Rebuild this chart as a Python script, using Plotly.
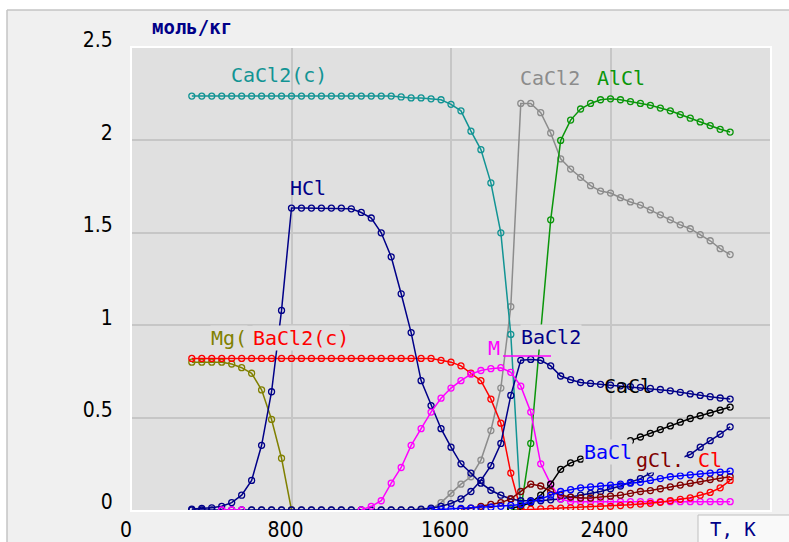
import plotly.graph_objects as go

N = None

# Temperature grid, K
T = [300, 350, 400, 450, 500, 550, 600, 650, 700, 750,
     800, 850, 900, 950, 1000, 1050, 1100, 1150, 1200, 1250,
     1300, 1350, 1400, 1450, 1500, 1550, 1600, 1650, 1700, 1750,
     1800, 1850, 1900, 1950, 2000, 2050, 2100, 2150, 2200, 2250,
     2300, 2350, 2400, 2450, 2500, 2550, 2600, 2650, 2700, 2750,
     2800, 2850, 2900, 2950, 3000]

# mol/kg
cacl2_c = [2.24, 2.24, 2.24, 2.24, 2.24, 2.24, 2.24, 2.24, 2.24, 2.24,
           2.24, 2.24, 2.24, 2.24, 2.24, 2.24, 2.24, 2.24, 2.24, 2.24,
           2.24, 2.235, 2.23, 2.23, 2.225, 2.22, 2.195, 2.16, 2.05, 1.95,
           1.77, 1.50, 0.95, 0.0, N, N, N, N, N, N,
           N, N, N, N, N, N, N, N, N, N,
           N, N, N, N, N]

cacl2 = [N, N, N, N, N, N, 0.0, 0.0, 0.0, 0.0,
         0.0, 0.0, 0.0, 0.0, 0.0, 0.0, 0.0, 0.0, 0.0, 0.0,
         0.0, 0.0, 0.0, 0.0, 0.005, 0.04, 0.09, 0.14, 0.18, 0.27,
         0.43, 0.66, 1.1, 2.2, 2.2, 2.15, 2.04, 1.9, 1.845, 1.80,
         1.755, 1.726, 1.715, 1.69, 1.667, 1.65, 1.624, 1.597, 1.57, 1.543,
         1.522, 1.49, 1.457, 1.414, 1.382]

alcl = [N, N, N, N, N, N, N, N, N, N,
        N, N, N, N, N, N, N, N, N, N,
        N, N, N, N, N, N, N, N, N, N,
        N, N, 0.0, 0.0, 0.36, 0.95, 1.57, 2.0, 2.11, 2.17,
        2.20, 2.22, 2.225, 2.22, 2.21, 2.2, 2.19, 2.175, 2.16, 2.14,
        2.12, 2.10, 2.08, 2.06, 2.045]

hcl = [0.005, 0.008, 0.012, 0.02, 0.04, 0.08, 0.16, 0.35, 0.64, 1.08,
       1.634, 1.634, 1.634, 1.634, 1.634, 1.634, 1.63, 1.61, 1.58, 1.50,
       1.37, 1.17, 0.96, 0.70, 0.565, 0.44, 0.34, 0.25, 0.2, 0.145,
       0.107, 0.08, 0.06, 0.05, 0.05, 0.05, 0.055, 0.06, 0.07, 0.08,
       0.09, 0.10, 0.115, 0.13, 0.15, 0.17, 0.2, 0.23, 0.26, 0.28,
       0.30, 0.34, 0.375, 0.41, 0.45]

bacl2 = [0.0, 0.0, 0.0, 0.0, 0.0, 0.0, 0.0, 0.0, 0.0, 0.0,
         0.0, 0.0, 0.0, 0.0, 0.0, 0.0, 0.0, 0.0, 0.0, 0.0,
         0.0, 0.0, 0.0, 0.005, 0.01, 0.02, 0.035, 0.06, 0.1, 0.16,
         0.24, 0.36, 0.62, 0.81, 0.815, 0.81, 0.78, 0.725, 0.705, 0.69,
         0.685, 0.68, 0.676, 0.672, 0.668, 0.664, 0.658, 0.652, 0.645, 0.637,
         0.628, 0.62, 0.613, 0.606, 0.60]

mg_c = [0.80, 0.80, 0.80, 0.80, 0.79, 0.77, 0.74, 0.65, 0.49, 0.28,
        0.0, N, N, N, N, N, N, N, N, N,
        N, N, N, N, N, N, N, N, N, N,
        N, N, N, N, N, N, N, N, N, N,
        N, N, N, N, N, N, N, N, N, N,
        N, N, N, N, N]

bacl2_c = [0.82, 0.82, 0.82, 0.82, 0.82, 0.82, 0.82, 0.82, 0.82, 0.82,
           0.82, 0.82, 0.82, 0.82, 0.82, 0.82, 0.82, 0.82, 0.82, 0.82,
           0.82, 0.82, 0.82, 0.82, 0.82, 0.81, 0.80, 0.78, 0.74, 0.70,
           0.60, 0.47, 0.2, 0.0, N, N, N, N, N, N,
           N, N, N, N, N, N, N, N, N, N,
           N, N, N, N, N]

mg = [N, N, N, 0.0, 0.0, 0.0, N, N, N, N,
      N, N, N, N, N, N, N, 0.0, 0.02, 0.05,
      0.145, 0.23, 0.35, 0.44, 0.53, 0.605, 0.66, 0.70, 0.735, 0.755,
      0.765, 0.77, 0.745, 0.67, 0.53, 0.25, 0.14, 0.06, 0.045, 0.045,
      0.045, 0.045, 0.045, 0.045, 0.045, 0.045, 0.045, 0.045, 0.045, 0.045,
      0.045, 0.045, 0.045, 0.045, 0.045]

cacl = [N, N, N, N, N, N, N, N, N, N,
        N, N, N, N, N, N, N, N, N, N,
        N, N, N, N, N, N, N, N, N, N,
        N, N, 0.01, 0.02, 0.04, 0.08, 0.14, 0.22, 0.255, 0.275,
        0.295, 0.315, 0.335, 0.355, 0.375, 0.395, 0.415, 0.435, 0.455, 0.475,
        0.495, 0.51, 0.525, 0.54, 0.557]

mgcl = [N, N, N, N, N, N, N, N, N, N,
        N, N, N, N, N, N, N, N, N, N,
        N, N, N, N, N, N, N, 0.005, 0.01, 0.02,
        0.03, 0.04, 0.06, 0.1, 0.14, 0.13, 0.1, 0.08, 0.07, 0.065,
        0.065, 0.07, 0.075, 0.08, 0.09, 0.1, 0.105, 0.115, 0.125, 0.135,
        0.145, 0.155, 0.165, 0.172, 0.18]

cl = [N, N, N, N, N, N, N, N, N, N,
      N, N, N, N, N, N, N, N, N, N,
      N, N, N, N, N, N, N, N, N, N,
      N, N, N, 0.0, 0.005, 0.006, 0.008, 0.01, 0.012, 0.014,
      0.016, 0.018, 0.02, 0.024, 0.028, 0.032, 0.036, 0.042, 0.05, 0.058,
      0.066, 0.08, 0.095, 0.12, 0.16]

bacl = [N, N, N, N, N, N, N, N, N, N,
        N, N, N, N, N, N, N, N, N, N,
        N, N, N, N, 0.0, 0.003, 0.005, 0.008, 0.01, 0.012,
        0.015, 0.02, 0.025, 0.03, 0.045, 0.06, 0.08, 0.1, 0.11, 0.12,
        0.125, 0.13, 0.135, 0.14, 0.145, 0.15, 0.16, 0.17, 0.18, 0.185,
        0.19, 0.195, 0.2, 0.205, 0.21]

x_ticks = [0, 800, 1600, 2400]
y_ticks = [0, 0.5, 1, 1.5, 2, 2.5]
y_tick_text = ["0", "0.5", "1", "1.5", "2", "2.5"]

TEAL = "#129494"
GRAY = "#8c8c8c"
GREEN = "#0a960a"
NAVY = "#000088"
OLIVE = "#808000"
RED = "#ff0000"
MAGENTA = "#ff00ff"
BLUE = "#0000ff"
MAROON = "#800000"
BLACK = "#000000"

series = [
    ("CaCl2", cacl2, GRAY),
    ("CaCl2(c)", cacl2_c, TEAL),
    ("Mg(c)", mg_c, OLIVE),
    ("BaCl2(c)", bacl2_c, RED),
    ("AlCl", alcl, GREEN),
    ("BaCl2", bacl2, NAVY),
    ("HCl", hcl, NAVY),
    ("Mg", mg, MAGENTA),
    ("CaCl", cacl, BLACK),
    ("MgCl", mgcl, MAROON),
    ("Cl", cl, RED),
    ("BaCl", bacl, BLUE),
]

fig = go.Figure()
for name, vals, col in series:
    fig.add_trace(go.Scatter(
        x=T, y=vals, name=name, mode="lines+markers",
        line=dict(color=col, width=1.5),
        marker=dict(symbol="circle-open", size=6, color=col, line=dict(width=1.3, color=col)),
        connectgaps=False, showlegend=False, hoverinfo="skip"))

# plot area in pixels: x 132..770, y 48..510
L, R, TOP, BOT = 132, 770, 48, 510
def px(x):
    return (x - L) / (R - L)
def py(y):
    return (BOT - y) / (BOT - TOP)

MONO = "DejaVu Sans Mono"
labels = [
    ("CaCl2(c)", 279, 75, TEAL, None),
    ("HCl", 308, 188, NAVY, None),
    ("CaCl2", 550, 78, GRAY, None),
    ("AlCl", 621, 78, GREEN, None),
    ("Mg(", 229, 338, OLIVE, "#e0e0e0"),
    ("BaCl2(c)", 301, 338, RED, "#e0e0e0"),
    ("M", 494, 348, MAGENTA, None),
    ("BaCl2", 551, 337, NAVY, "#e0e0e0"),
    ("CaCl", 628, 386, BLACK, None),
    ("BaCl", 608, 452, BLUE, "#e0e0e0"),
    ("gCl.", 660, 460, MAROON, "#e0e0e0"),
    ("Cl", 710, 460, RED, None),
]
annotations = []
for txt, x, y, col, bg in labels:
    a = dict(text=txt, x=px(x), y=py(y), xref="paper", yref="paper",
             xanchor="center", yanchor="middle", showarrow=False,
             font=dict(family=MONO, size=20, color=col), borderpad=0)
    if bg:
        a["bgcolor"] = bg
    annotations.append(a)

annotations.append(dict(text="<b>моль/кг</b>", x=px(192), y=py(27), xref="paper", yref="paper",
                        xanchor="center", yanchor="middle", showarrow=False,
                        font=dict(family=MONO, size=19, color=NAVY)))
annotations.append(dict(text="T, K", x=px(733), y=py(529), xref="paper", yref="paper",
                        xanchor="center", yanchor="middle", showarrow=False,
                        font=dict(family=MONO, size=19, color=NAVY)))

shapes = [
    # white margin strips around the outer panel
    dict(type="rect", xref="paper", yref="paper", x0=px(-5), x1=px(800), y0=py(10), y1=py(-5),
         fillcolor="white", line=dict(width=0), layer="below"),
    dict(type="rect", xref="paper", yref="paper", x0=px(-5), x1=px(7), y0=py(560), y1=py(-5),
         fillcolor="white", line=dict(width=0), layer="below"),
    dict(type="line", xref="paper", yref="paper", x0=px(7), x1=px(800), y0=py(10), y1=py(10),
         line=dict(color="#c4c4c4", width=1.5), layer="below"),
    dict(type="line", xref="paper", yref="paper", x0=px(7), x1=px(7), y0=py(10), y1=py(560),
         line=dict(color="#c4c4c4", width=1.5), layer="below"),
    # magenta underline of the partially hidden "Mg" label
    dict(type="line", xref="paper", yref="paper", x0=px(503), x1=px(551), y0=py(356), y1=py(356),
         line=dict(color=MAGENTA, width=1.5), layer="above"),
    # T, K box
    dict(type="rect", xref="paper", yref="paper", x0=px(698), x1=px(800), y0=py(560), y1=py(515),
         fillcolor="#f9f9f9", line=dict(color="#c0c0c0", width=1), layer="above"),
]

TICKFONT = dict(family="Liberation Sans Narrow, DejaVu Sans Condensed, Arial Narrow, sans-serif",
                size=21, color="black")

fig.update_layout(
    width=789, height=542,
    margin=dict(l=L, r=789 - R, t=TOP, b=542 - BOT, pad=0, autoexpand=False),
    paper_bgcolor="#f0f0f0",
    plot_bgcolor="#e0e0e0",
    showlegend=False,
    annotations=annotations,
    shapes=shapes,
    xaxis=dict(range=[0, 3200], tickvals=x_ticks, ticktext=[str(v) for v in x_ticks],
               showgrid=True, gridcolor="#c6c6c6", gridwidth=1.5, zeroline=False,
               showline=True, linecolor="white", linewidth=2, mirror=True, automargin=False,
               ticks="", tickfont=TICKFONT, ticklabelstandoff=0, ticklabelshift=-6),
    yaxis=dict(range=[0, 2.5], tickvals=y_ticks, ticktext=y_tick_text,
               showgrid=True, gridcolor="#c6c6c6", gridwidth=1.5, zeroline=False,
               showline=True, linecolor="white", linewidth=2, mirror=True, automargin=False,
               ticks="", tickfont=TICKFONT, ticklabelstandoff=13, ticklabelshift=-8),
)

fig.write_html("out.html")
